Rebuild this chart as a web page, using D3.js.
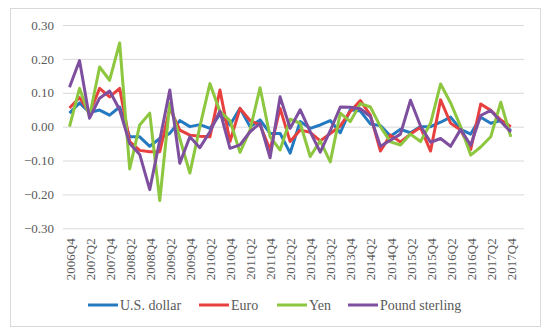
<!DOCTYPE html>
<html><head><meta charset="utf-8">
<script src="https://cdn.jsdelivr.net/npm/d3@7"></script>
<style>body{margin:0;background:#fff}svg{display:block}
svg text{font-family:"Liberation Serif","DejaVu Serif","Times New Roman",serif !important;}</style>
</head><body><svg id="c" width="550" height="336"></svg>
<script>
const quarters = [];
for (let y = 2006; y <= 2017; y++) for (let q = 1; q <= 4; q++) { if (y === 2006 && q < 4) continue; quarters.push(y + "Q" + q); }
const tickLabels = quarters.filter((d, i) => i % 2 === 0);
const usd = [0.04,0.07,0.042,0.049,0.034,0.058,-0.03,-0.03,-0.058,-0.035,-0.02,0.018,0.0,0.006,-0.005,0.036,0.005,0.054,0.0,0.02,-0.02,-0.02,-0.078,0.015,-0.005,0.005,0.018,-0.018,0.05,0.046,0.008,0.003,-0.028,-0.008,-0.018,0.0,0.0,0.013,0.028,-0.008,-0.022,0.028,0.01,0.018,-0.012];
const eur = [0.055,0.086,0.04,0.113,0.088,0.113,-0.044,-0.07,-0.074,-0.074,0.054,-0.01,-0.025,-0.028,-0.03,0.108,-0.044,0.054,0.018,0.005,-0.068,0.054,-0.044,-0.01,-0.017,-0.042,-0.02,0.002,0.045,0.077,0.034,-0.072,-0.025,-0.045,-0.022,-0.002,-0.072,0.079,0.01,-0.01,-0.068,0.067,0.048,0.02,0.0];
const yen = [0.0,0.113,0.03,0.176,0.137,0.247,-0.125,0.005,0.04,-0.218,0.069,-0.035,-0.137,0.0,0.127,0.045,0.018,-0.076,-0.01,0.115,-0.03,-0.069,0.022,0.01,-0.088,-0.042,-0.104,0.04,0.015,0.068,0.058,0.0,-0.045,-0.054,-0.022,-0.044,0.01,0.126,0.07,0.0,-0.084,-0.06,-0.03,0.072,-0.03];
const gbp = [0.116,0.195,0.025,0.084,0.105,0.05,-0.05,-0.082,-0.186,-0.04,0.108,-0.108,-0.03,-0.062,-0.015,0.046,-0.064,-0.054,-0.015,0.01,-0.092,0.088,-0.005,0.05,-0.015,-0.075,-0.012,0.058,0.057,0.053,0.03,-0.058,-0.04,-0.022,0.078,0.002,-0.046,-0.035,-0.058,-0.008,-0.055,0.033,0.048,0.015,-0.016];
const seriesNames = ["U.S. dollar", "Euro", "Yen", "Pound sterling"];
const seriesColors = ["#2479C1", "#E8403F", "#8DC63F", "#7E4F9F"];
const yTicks = [0.30, 0.20, 0.10, 0.00, -0.10, -0.20, -0.30];

const series = [usd, eur, yen, gbp];
const svg = d3.select("#c");
const plotL = 63, plotR = 524;

svg.append("rect").attr("x", 10.5).attr("y", 8.5).attr("width", 530).attr("height", 318)
  .attr("fill", "#fff").attr("stroke", "#d9d9d9").attr("stroke-width", 1);

const x = d3.scalePoint().domain(quarters).range([69.5, 510.8]);
const y = d3.scaleLinear().domain([-0.3, 0.3]).range([228.3, 25]);

const gy = svg.append("g").attr("transform", `translate(${plotL},0)`)
  .call(d3.axisLeft(y).tickValues(yTicks).tickFormat(d3.format(".2f")).tickSize(-(plotR - plotL)).tickPadding(9));
gy.select(".domain").remove();
gy.selectAll(".tick line").attr("stroke", "#d9d9d9").attr("stroke-width", 1);
gy.selectAll(".tick text").attr("font-size", 13).attr("fill", "#595959");

const gx = svg.append("g").attr("transform", `translate(0,228.3)`)
  .call(d3.axisBottom(x).tickValues(tickLabels).tickSize(0).tickPadding(0));
gx.select(".domain").remove();
gx.selectAll(".tick text")
  .attr("font-size", 13).attr("fill", "#595959")
  .attr("text-anchor", "end").attr("transform", "translate(0,10) rotate(-90)")
  .attr("x", 0).attr("y", 0).attr("dy", "0.35em");

const line = d3.line().x((d, i) => x(quarters[i])).y(d => y(d));
series.forEach((s, k) => {
  svg.append("path").datum(s).attr("d", line).attr("fill", "none")
    .attr("stroke", seriesColors[k]).attr("stroke-width", 3).attr("stroke-linejoin", "round");
});

const legendX = [88, 199, 277, 348];
const lg = svg.append("g");
seriesNames.forEach((n, k) => {
  lg.append("line").attr("x1", legendX[k]).attr("x2", legendX[k] + 30).attr("y1", 305).attr("y2", 305)
    .attr("stroke", seriesColors[k]).attr("stroke-width", 3);
  lg.append("text").attr("x", legendX[k] + 32).attr("y", 305).attr("dy", "0.35em")
    .attr("font-size", 14).attr("fill", "#595959").text(n);
});
</script></body></html>
